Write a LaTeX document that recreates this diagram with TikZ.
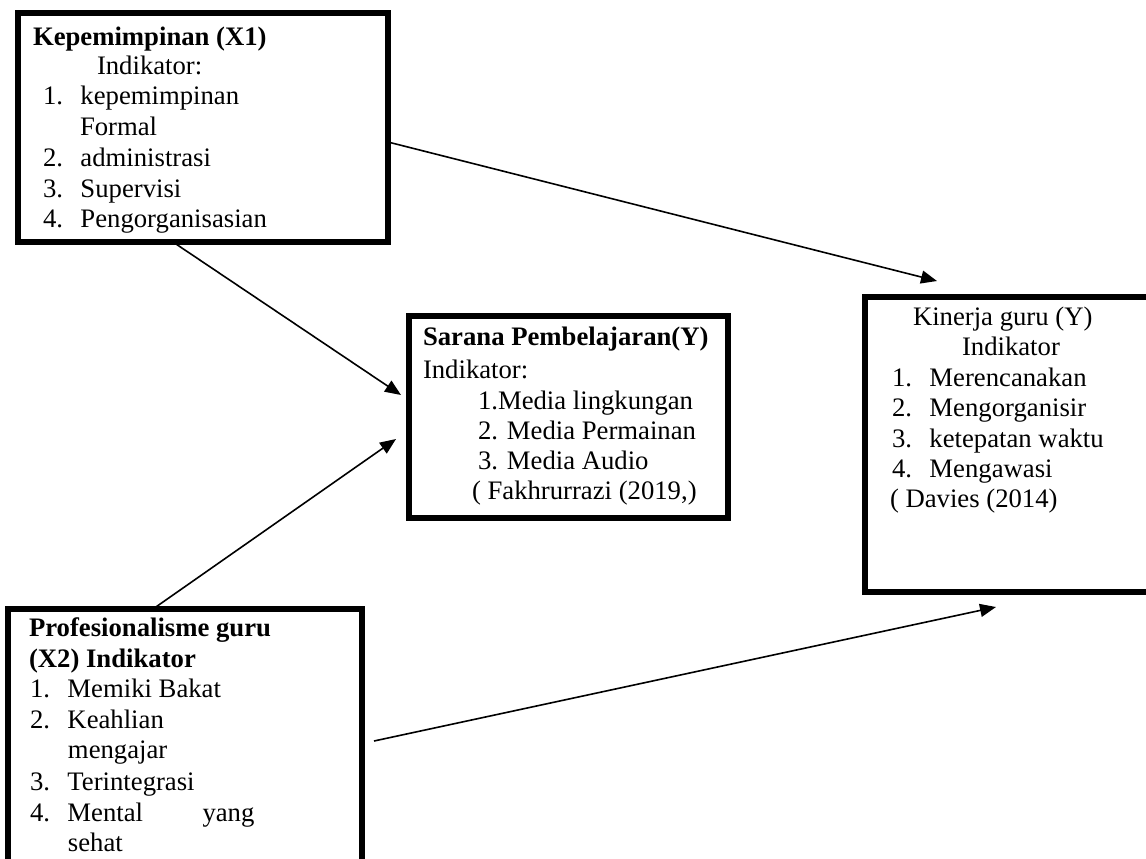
\documentclass[tikz,border=0pt]{standalone}
\usepackage{fontspec}
\setmainfont{Liberation Serif}
\usetikzlibrary{calc,arrows.meta}
\newcommand\itm[2]{\makebox[18.75pt][l]{#1}#2}
\begin{document}
\begin{tikzpicture}[x=0.5pt,y=-0.5pt,
  box/.style={draw=black,line width=2.8pt,rectangle,inner sep=0pt,outer sep=0pt},
  txt/.style={anchor=base west,inner sep=0pt,outer sep=0pt,font=\fontsize{13.35}{15.2}\selectfont},
  conn/.style={draw=black,line width=0.8pt,-{Triangle[length=8pt,width=6.5pt]}}]
\clip (0,0) rectangle (1146,858);
\fill[white] (0,0) rectangle (1146,858);
% boxes
\node[box,minimum width=185pt,minimum height=114.5pt] (b1) at (203,127.5) {};
\node[box,minimum width=159.5pt,minimum height=101pt] (b2) at (568.5,417) {};
\node[box,minimum width=147.5pt,minimum height=147.5pt] (b3) at (1012.5,444.5) {};
\node[box,minimum width=177pt,minimum height=145.5pt] (b4) at (185,754.5) {};
% box 1 text
\node[txt] (t11) at (33,45) {\textbf{Kepemimpinan (X1)}};
\node[txt] (t12) at (97,74) {Indikator:};
\node[txt] (t13) at (43,104) {\itm{1.}{kepemimpinan}};
\node[txt] (t14) at (80,135) {Formal};
\node[txt] (t15) at (43,166) {\itm{2.}{administrasi}};
\node[txt] (t16) at (43,197) {\itm{3.}{Supervisi}};
\node[txt] (t17) at (43,227) {\itm{4.}{Pengorganisasian}};
% box 2 text
\node[txt] (t21) at (423,345) {\textbf{Sarana Pembelajaran(Y)}};
\node[txt] (t22) at (423,378) {Indikator:};
\node[txt] (t23) at (478,409) {1.Media lingkungan};
\node[txt] (t24) at (478,439) {2. Media Permainan};
\node[txt] (t25) at (478,469) {3. Media Audio};
\node[txt] (t26) at (472,499) {( Fakhrurrazi (2019,)};
% box 3 text
\node[txt] (t31) at (913,325) {Kinerja guru (Y)};
\node[txt] (t32) at (962,355) {Indikator};
\node[txt] (t33) at (892,386) {\itm{1.}{Merencanakan}};
\node[txt] (t34) at (892,416) {\itm{2.}{Mengorganisir}};
\node[txt] (t35) at (892,447) {\itm{3.}{ketepatan waktu}};
\node[txt] (t36) at (892,477) {\itm{4.}{Mengawasi}};
\node[txt] (t37) at (890,507) {( Davies (2014)};
% box 4 text
\node[txt] (t41) at (29,636) {\textbf{Profesionalisme guru}};
\node[txt] (t42) at (29,667) {\textbf{(X2) Indikator}};
\node[txt] (t43) at (30,697) {\itm{1.}{Memiki Bakat}};
\node[txt] (t44) at (30,728) {\itm{2.}{Keahlian}};
\node[txt] (t45) at (68,758) {mengajar};
\node[txt] (t46) at (30,790) {\itm{3.}{Terintegrasi}};
\node[txt] (t47) at (30,821) {\itm{4.}{\makebox[67.5pt][l]{Mental}yang}};
\node[txt] (t48) at (68,851) {sehat};
% connector end points
\coordinate (a1s) at ($(b1.north east)+(0,129)$);
\coordinate (a1e) at ($(b3.north west)+(72,-16)$);
\coordinate (a2s) at ($(b1.south west)+(155,0)$);
\coordinate (a2e) at ($(b2.west)+(-8,-22)$);
\coordinate (a3s) at ($(b4.north west)+(145,0)$);
\coordinate (a3e) at ($(b2.west)+(-13,22)$);
\coordinate (a4s) at ($(b4.east)+(12,-13.5)$);
\coordinate (a4e) at ($(b3.south west)+(131,15)$);
\draw[conn] (a1s) -- (a1e);
\draw[conn] (a2s) -- (a2e);
\draw[conn] (a3s) -- (a3e);
\draw[conn] (a4s) -- (a4e);
\end{tikzpicture}
\end{document}
